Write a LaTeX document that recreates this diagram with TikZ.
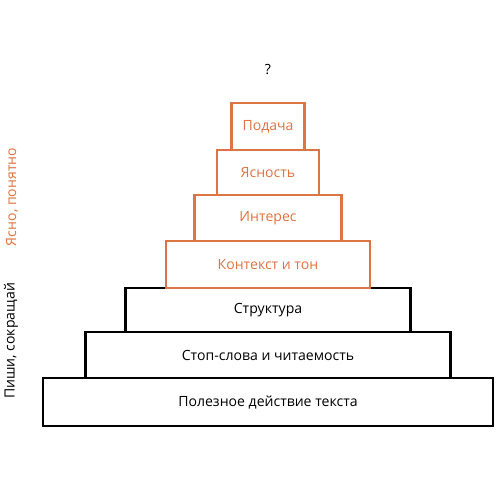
\documentclass[tikz,border=0pt]{standalone}
\usepackage{fontspec}
\setmainfont{Open Sans}
\usepackage{tikz}
\usetikzlibrary{positioning}
\definecolor{accent}{HTML}{DD7443}

\begin{document}
\begin{tikzpicture}[
    node distance=0pt,
    box/.style={draw, line width=1.6pt, outer sep=0pt, minimum height=9.2mm, align=center, font=\fontsize{8}{10}\selectfont, fill=white},
    top/.style={box, draw=accent, text=accent, line width=1.3pt},
    side/.style={rotate=90, font=\fontsize{8}{10}\selectfont},
  ]
    \useasboundingbox (0,0) rectangle (10,-10);
    \node[box, minimum width=90mm, minimum height=9.6mm] (use) at (5.36,-8.04) {Полезное действие текста};
    \node[box, minimum width=73mm, above=of use]  (stop)  {Стоп-слова и читаемость};
    \node[box, minimum width=57mm, above=of stop, minimum height=8.8mm] (struct) {Структура};
    \node[top, minimum width=40.8mm, above=of struct, minimum height=9.4mm] (ctx) {Контекст и тон};
    \node[top, minimum width=29.4mm, above=of ctx] (inter) {Интерес};
    \node[top, minimum width=20.4mm, above=of inter, minimum height=9mm] (clar) {Ясность};
    \node[top, minimum width=14.6mm, above=of clar, minimum height=9.4mm] (pod) {Подача};
    \node[font=\fontsize{8}{10}\selectfont, above=4.5mm of pod] (q) {?};
    \node[side, text=accent] (clear) at (0.24,-3.94) {Ясно, понятно};
    \node[side] (short) at (0.22,-6.82) {Пиши, сокращай};
\end{tikzpicture}
\end{document}
